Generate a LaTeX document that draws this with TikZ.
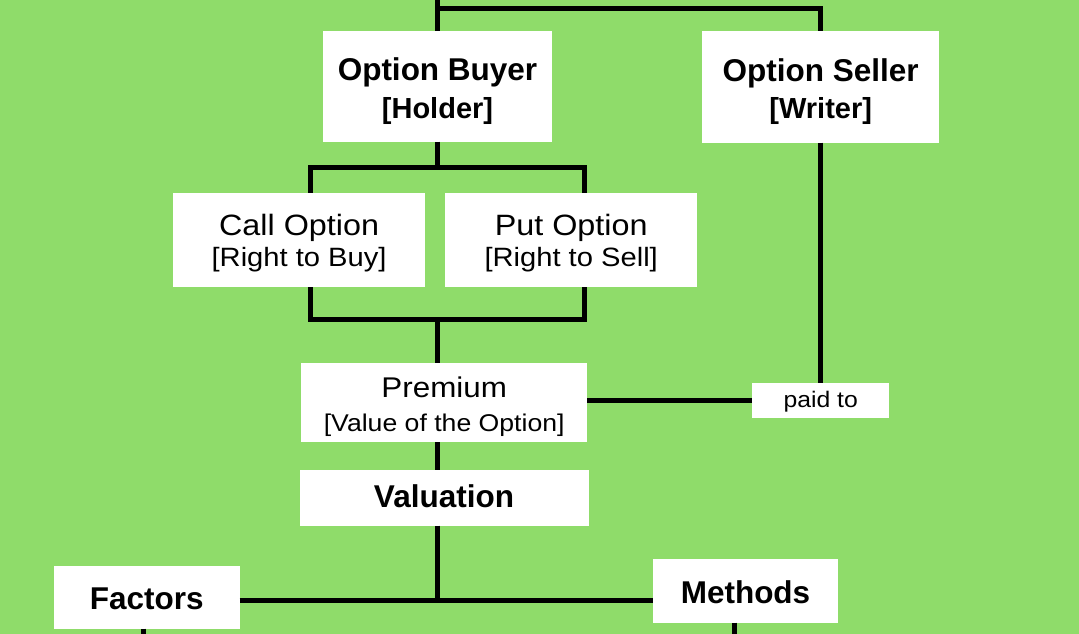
\documentclass[tikz,border=0pt]{standalone}
\usepackage{fontspec}
\setmainfont{Liberation Sans}
\newfontfamily\regfont[FakeStretch=1.1]{Liberation Sans}
\definecolor{leaf}{RGB}{143,220,106}
\tikzset{
  box/.style={fill=white, draw=none, inner sep=0pt, outer sep=0pt},
  conn/.style={draw=black, line width=5pt},
  ttl/.style={anchor=base, inner sep=0pt, font=\fontsize{31.5}{36}\selectfont\bfseries},
  ttlsub/.style={anchor=base, inner sep=0pt, font=\fontsize{29}{34}\selectfont\bfseries},
  lbl/.style={anchor=base, inner sep=0pt, font=\regfont\fontsize{29.4}{34}\selectfont},
  lblsub/.style={anchor=base, inner sep=0pt, font=\regfont\fontsize{26.5}{31}\selectfont},
}
\begin{document}
\begin{tikzpicture}[x=1pt, y=-1pt]
  \useasboundingbox (0,0) rectangle (1079,634);
  \fill[leaf] (0,0) rectangle (1079,634);

  % junction points of the connector buses
  \coordinate (topin) at (437,0);
  \coordinate (topbus) at (820.5,8.2);
  \coordinate (busLa) at (310,167.3);
  \coordinate (busRa) at (584.5,167.3);
  \coordinate (busLb) at (310,319);
  \coordinate (busRb) at (584.5,319);
  \coordinate (stem) at (437,319);
  \coordinate (busc) at (437,600.3);
  \coordinate (fout) at (143.8,634);
  \coordinate (mout) at (734.3,634);

  % boxes
  \node[box, minimum width=229pt, minimum height=111pt] (buyer) at (437.5,86.1) {};
  \node[box, minimum width=237.5pt, minimum height=111pt] (seller) at (820.7,87) {};
  \node[box, minimum width=252.3pt, minimum height=94.5pt] (call) at (299.1,240.2) {};
  \node[box, minimum width=252pt, minimum height=94.5pt] (put) at (571.2,240.2) {};
  \node[box, minimum width=286.5pt, minimum height=79.5pt] (premium) at (444.2,402.7) {};
  \node[box, minimum width=137.5pt, minimum height=35pt] (paid) at (820.7,400) {};
  \node[box, minimum width=289pt, minimum height=56pt] (valuation) at (444,497.5) {};
  \node[box, minimum width=185.5pt, minimum height=63pt] (factors) at (146.8,597.1) {};
  \node[box, minimum width=185pt, minimum height=63.7pt] (methods) at (745.5,590.8) {};

  % connectors
  \draw[conn] (topin) -- (buyer.north -| topin);
  \draw[conn] (topin |- topbus) -- (topbus) -- (seller.north -| topbus);
  \draw[conn] (buyer.south -| topin) -- (topin |- busLa);
  \draw[conn] (call.north -| busLa) -- (busLa) -- (busRa) -- (put.north -| busRa);
  \draw[conn] (call.south -| busLb) -- (busLb) -- (busRb) -- (put.south -| busRb);
  \draw[conn] (stem) -- (premium.north -| stem);
  \draw[conn] (premium.south -| stem) -- (valuation.north -| stem);
  \draw[conn] (premium.east |- paid.west) -- (paid.west);
  \draw[conn] (seller.south) -- (seller.south |- paid.north);
  \draw[conn] (valuation.south -| busc) -- (busc);
  \draw[conn] (factors.east |- busc) -- (methods.west |- busc);
  \draw[conn] (factors.south -| fout) -- (fout);
  \draw[conn] (methods.south -| mout) -- (mout);

  % texts
  \node[ttl] (buyerA) at (437.5,81) {Option Buyer};
  \node[ttlsub] (buyerB) at (437.5,118.3) {[Holder]};
  \node[ttl] (sellerA) at (820.7,81.5) {Option Seller};
  \node[ttlsub] (sellerB) at (820.7,118.7) {[Writer]};
  \node[lbl] (callA) at (299.1,235.7) {Call Option};
  \node[lblsub] (callB) at (299.1,266) {[Right to Buy]};
  \node[lbl] (putA) at (571.2,235.7) {Put Option};
  \node[lblsub] (putB) at (571.2,266) {[Right to Sell]};
  \node[anchor=base, inner sep=0pt, font=\regfont\fontsize{28.5}{33}\selectfont] (premA) at (444.2,397) {Premium};
  \node[anchor=base, inner sep=0pt, font=\regfont\fontsize{24.2}{28}\selectfont] (premB) at (444.2,431) {[Value of the Option]};
  \node[anchor=base, inner sep=0pt, font=\regfont\fontsize{22.5}{27}\selectfont] (paidA) at (820.7,407.3) {paid to};
  \node[ttl] (valA) at (444,507) {Valuation};
  \node[ttl] (factA) at (146.8,609.3) {Factors};
  \node[ttl] (methA) at (745.5,603.3) {Methods};
\end{tikzpicture}
\end{document}
